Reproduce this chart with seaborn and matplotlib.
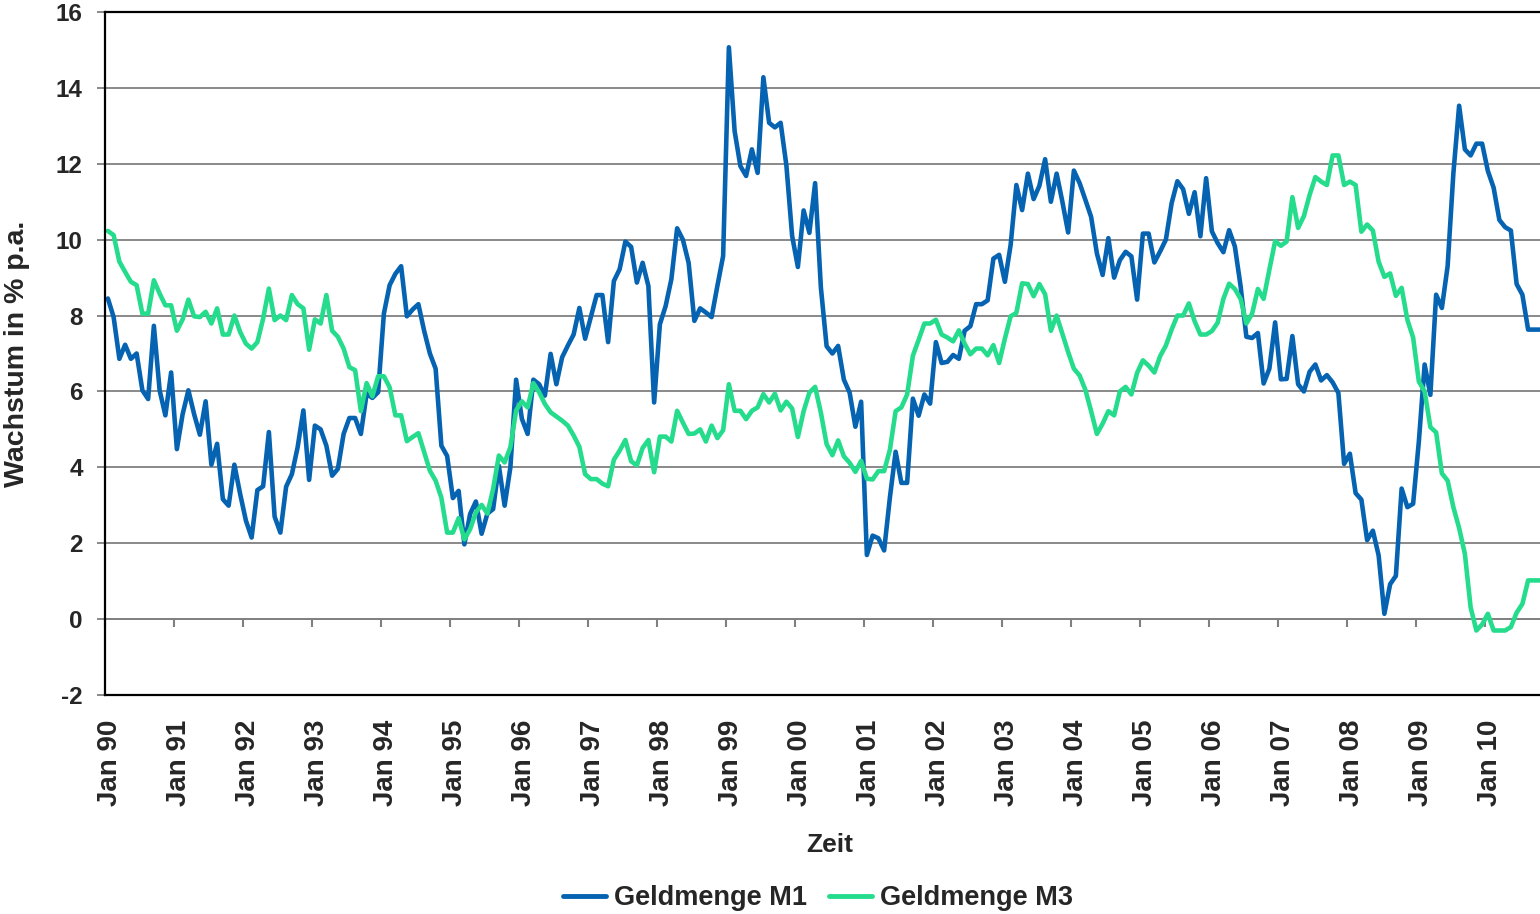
import pandas as pd
import numpy as np
import matplotlib
matplotlib.use("Agg")
import matplotlib.pyplot as plt
import matplotlib.transforms as mtransforms
import seaborn as sns

# Geldmengenwachstum in % p.a., monatlich Jan 1990 - Okt 2010
m1 = [8.45, 7.96, 6.86, 7.23, 6.86, 7.0, 6.03, 5.8, 7.73, 6.03, 5.37, 6.5,
      4.48, 5.4, 6.03, 5.4, 4.86, 5.74, 4.07, 4.62, 3.16, 2.99, 4.07, 3.3,
      2.6, 2.15, 3.4, 3.5, 4.93, 2.7, 2.28, 3.49, 3.82, 4.53, 5.5, 3.67,
      5.1, 5.0, 4.57, 3.78, 3.96, 4.88, 5.3, 5.3, 4.88, 5.94, 5.83, 5.98,
      8.05, 8.8, 9.1, 9.3, 7.98, 8.16, 8.3, 7.6, 7.0, 6.6, 4.57, 4.3,
      3.19, 3.38, 1.97, 2.77, 3.1, 2.25, 2.78, 2.9, 4.04, 2.99, 4.0, 6.31,
      5.28, 4.88, 6.31, 6.19, 5.89, 6.99, 6.19, 6.9, 7.21, 7.5, 8.2, 7.39,
      7.96, 8.54, 8.54, 7.3, 8.91, 9.22, 9.95, 9.81, 8.87, 9.39, 8.78, 5.71,
      7.77, 8.25, 8.96, 10.3, 10.0, 9.39, 7.86, 8.19, 8.08, 7.96, 8.78, 9.57,
      15.07, 12.86, 11.94, 11.68, 12.38, 11.76, 14.28, 13.08, 12.96, 13.08, 11.96, 10.1,
      9.28, 10.77, 10.18, 11.49, 8.74, 7.19, 7.0, 7.2, 6.31, 5.97, 5.07, 5.73,
      1.69, 2.2, 2.13, 1.81, 3.2, 4.41, 3.59, 3.59, 5.81, 5.36, 5.92, 5.68,
      7.3, 6.75, 6.78, 6.96, 6.86, 7.6, 7.72, 8.3, 8.3, 8.4, 9.5, 9.6,
      8.89, 9.86, 11.44, 10.78, 11.74, 11.07, 11.42, 12.12, 11.0, 11.74, 11.0, 10.19,
      11.82, 11.49, 11.05, 10.6, 9.64, 9.07, 10.04, 9.0, 9.46, 9.68, 9.56, 8.42,
      10.16, 10.16, 9.4, 9.69, 10.0, 10.96, 11.54, 11.33, 10.68, 11.25, 10.09, 11.62,
      10.22, 9.91, 9.67, 10.25, 9.82, 8.77, 7.44, 7.41, 7.54, 6.21, 6.6, 7.82,
      6.32, 6.33, 7.46, 6.19, 6.0, 6.52, 6.71, 6.29, 6.43, 6.24, 5.96, 4.09,
      4.36, 3.32, 3.15, 2.08, 2.33, 1.68, 0.14, 0.92, 1.14, 3.44, 2.95, 3.04,
      4.69, 6.71, 5.91, 8.55, 8.2, 9.3, 11.75, 13.53, 12.38, 12.22, 12.53, 12.53,
      11.81, 11.37, 10.52, 10.33, 10.24, 8.83, 8.55, 7.63, 7.63, 7.63]

m3 = [10.23, 10.12, 9.42, 9.15, 8.89, 8.8, 8.05, 8.05, 8.93, 8.58, 8.27, 8.27,
      7.6, 7.9, 8.42, 7.98, 7.96, 8.1, 7.79, 8.19, 7.5, 7.5, 8.0, 7.57,
      7.26, 7.13, 7.3, 7.92, 8.71, 7.88, 8.0, 7.88, 8.54, 8.3, 8.19, 7.1,
      7.9, 7.79, 8.54, 7.6, 7.44, 7.13, 6.64, 6.56, 5.48, 6.22, 5.87, 6.4,
      6.4, 6.11, 5.37, 5.37, 4.69, 4.8, 4.9, 4.4, 3.91, 3.65, 3.2, 2.28,
      2.28, 2.66, 2.1, 2.37, 2.81, 3.01, 2.78, 3.43, 4.31, 4.13, 4.53, 5.5,
      5.74, 5.58, 6.22, 5.98, 5.67, 5.45, 5.34, 5.23, 5.1, 4.84, 4.54, 3.82,
      3.69, 3.69, 3.57, 3.5, 4.2, 4.44, 4.72, 4.16, 4.05, 4.51, 4.72, 3.87,
      4.81, 4.81, 4.68, 5.49, 5.18, 4.88, 4.89, 5.0, 4.68, 5.1, 4.77, 4.98,
      6.19, 5.49, 5.49, 5.27, 5.49, 5.58, 5.93, 5.71, 5.94, 5.5, 5.73, 5.55,
      4.8, 5.48, 5.97, 6.12, 5.44, 4.61, 4.32, 4.71, 4.29, 4.12, 3.88, 4.17,
      3.7, 3.68, 3.9, 3.9, 4.46, 5.48, 5.58, 5.92, 6.94, 7.36, 7.79, 7.79,
      7.89, 7.5, 7.42, 7.32, 7.61, 7.26, 6.98, 7.13, 7.13, 6.95, 7.22, 6.75,
      7.39, 7.98, 8.07, 8.85, 8.83, 8.51, 8.83, 8.56, 7.6, 8.0, 7.52, 7.04,
      6.6, 6.42, 6.04, 5.48, 4.88, 5.15, 5.48, 5.37, 6.0, 6.12, 5.92, 6.49,
      6.82, 6.68, 6.5, 6.93, 7.21, 7.63, 8.0, 8.0, 8.32, 7.85, 7.5, 7.5,
      7.59, 7.81, 8.44, 8.84, 8.7, 8.44, 7.79, 8.05, 8.7, 8.44, 9.21, 9.96,
      9.84, 9.95, 11.12, 10.31, 10.62, 11.18, 11.65, 11.53, 11.44, 12.22, 12.22, 11.44,
      11.53, 11.44, 10.21, 10.4, 10.24, 9.42, 9.02, 9.11, 8.52, 8.73, 7.89, 7.42,
      6.26, 6.0, 5.06, 4.92, 3.84, 3.65, 2.95, 2.4, 1.72, 0.31, -0.3, -0.14,
      0.14, -0.3, -0.3, -0.3, -0.21, 0.17, 0.4, 1.02, 1.02, 1.02]

series_names = ["Geldmenge M1", "Geldmenge M3"]
colors = ["#0563b2", "#25dc8c"]
jahre = list(range(1990, 2011))
tick_labels = [f"Jan {j % 100:02d}" for j in jahre]

n = len(m1)
df = pd.DataFrame({
    "monat": list(range(n)) * 2,
    "wert": m1 + m3,
    "serie": [series_names[0]] * n + [series_names[1]] * n,
})

sns.set_style("white")
plt.rcParams["font.family"] = ["Liberation Sans", "DejaVu Sans"]
plt.rcParams["font.weight"] = "bold"

fig = plt.figure(figsize=(15.4, 9.14), dpi=100)
ax = fig.add_axes([105 / 1540, 1 - 695 / 914, 1437.5 / 1540, 683 / 914])

sns.lineplot(data=df, x="monat", y="wert", hue="serie", estimator=None,
             palette=dict(zip(series_names, colors)), linewidth=3.3, ax=ax)

ax.set_xlim(-0.5, n - 0.5)
ax.set_ylim(-2, 16)
ax.set_yticks(np.arange(-2, 17, 2))
ax.set_yticklabels([f"{v}" for v in range(-2, 17, 2)], fontsize=17.5, fontweight="bold")
ax.yaxis.grid(True, color="#808080", linewidth=1.3)
ax.set_axisbelow(True)

# Beschriftung unten, Achsenlinie mit Strichen bei 0
xt = [-0.5 + 12 * i for i in range(len(jahre))]
ax.set_xticks(xt)
ax.set_xticklabels(tick_labels, rotation=90, fontsize=20, fontweight="bold")
ax.tick_params(axis="x", length=0, pad=18)
ax.tick_params(axis="y", direction="out", length=6, width=1.3, color="#808080", pad=10, left=True)
shift = mtransforms.ScaledTranslation(5 / 100, 0, fig.dpi_scale_trans)
for lab in ax.get_xticklabels():
    lab.set_transform(lab.get_transform() + shift)

sec = ax.secondary_xaxis(0, transform=ax.transData)
sec.set_xticks(xt)
sec.tick_params(direction="out", length=6, width=1.5, color="#808080", labelbottom=False)
sec.spines["bottom"].set_color("#808080")
sec.spines["bottom"].set_linewidth(1.3)

for s in ax.spines.values():
    s.set_color("black")
    s.set_linewidth(1.6)

ax.set_ylabel("Wachstum in % p.a.", fontsize=20.5, fontweight="bold")
ax.yaxis.set_label_coords(-0.052, 0.5)
ax.set_xlabel("Zeit", fontsize=19, fontweight="bold")
ax.xaxis.set_label_coords(0.504, -0.202)

handles, labels = ax.get_legend_handles_labels()
for h in handles:
    h.set_linewidth(3.5)
ax.legend(handles, labels, loc="center", bbox_to_anchor=(818 / 1540, 1 - 898 / 914),
          bbox_transform=fig.transFigure, ncol=2, frameon=False,
          prop={"size": 19.5, "weight": "bold"}, handlelength=1.6,
          handletextpad=0.3, columnspacing=0.8)

plt.savefig("out.png", dpi=100)
